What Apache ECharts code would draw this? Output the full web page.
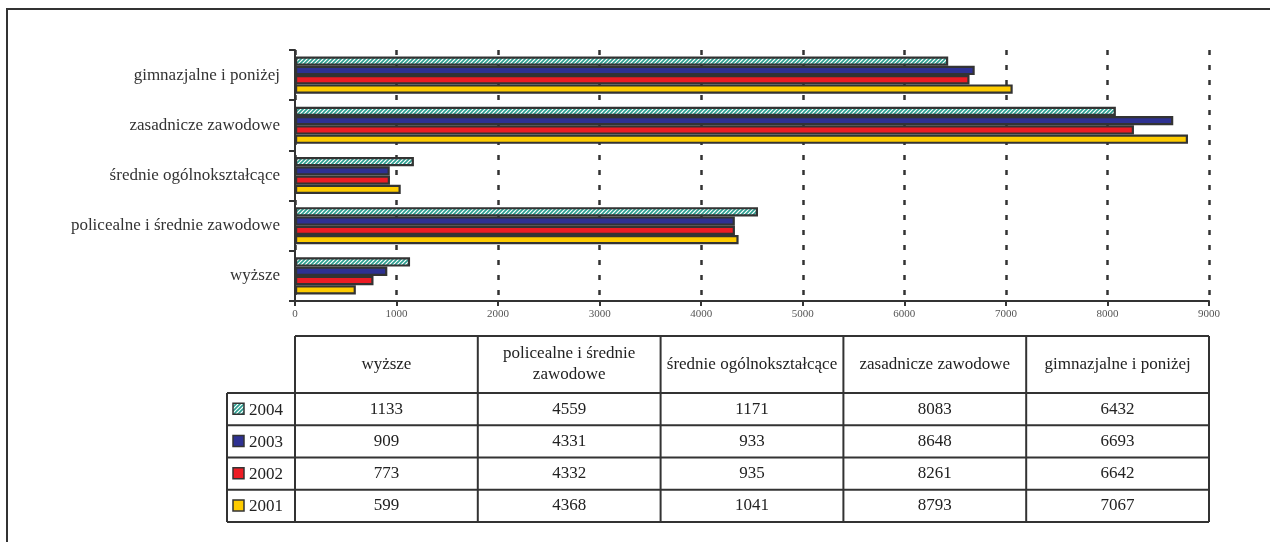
<!DOCTYPE html>
<html>
<head>
<meta charset="utf-8">
<script src="https://cdn.jsdelivr.net/npm/echarts@6/dist/echarts.min.js"></script>
<style>html,body{margin:0;padding:0;background:#fff;}#c{width:1270px;height:542px;}</style>
</head>
<body>
<div id="c"></div>
<script>
const categories = ['wyższe', 'policealne i średnie zawodowe', 'średnie ogólnokształcące', 'zasadnicze zawodowe', 'gimnazjalne i poniżej'];
const tableHeaders = ['wyższe', 'policealne i średnie\nzawodowe', 'średnie ogólnokształcące', 'zasadnicze zawodowe', 'gimnazjalne i poniżej'];
const years = ['2004', '2003', '2002', '2001'];
const v2004 = [1133, 4559, 1171, 8083, 6432];
const v2003 = [909, 4331, 933, 8648, 6693];
const v2002 = [773, 4332, 935, 8261, 6642];
const v2001 = [599, 4368, 1041, 8793, 7067];
const xTicks = [0, 1000, 2000, 3000, 4000, 5000, 6000, 7000, 8000, 9000];

const seriesValues = [v2004, v2003, v2002, v2001];

function hatch() {
  const c = document.createElement('canvas');
  c.width = 4; c.height = 4;
  const g = c.getContext('2d');
  g.fillStyle = '#ffffff'; g.fillRect(0, 0, 4, 4);
  g.strokeStyle = '#2a9d8f'; g.lineWidth = 1.6;
  g.beginPath();
  g.moveTo(0, 4); g.lineTo(4, 0);
  g.moveTo(-1, 1); g.lineTo(1, -1);
  g.moveTo(3, 5); g.lineTo(5, 3);
  g.stroke();
  return c;
}
const hatchPattern = { image: hatch(), repeat: 'repeat' };
const colors = [hatchPattern, '#2e3192', '#ed1c24', '#ffcc00'];

const FONT = 'Liberation Serif';
const gridLeft = 295, gridRight = 1209, gridTop = 50, gridBottom = 301;

const chart = echarts.init(document.getElementById('c'));

const tbl = [];
const colW = (gridRight - gridLeft) / categories.length;
const hdrTop = 336, hdrBot = 393, rowH = (522 - 393) / 4, legL = 227;
const tableBottom = hdrBot + rowH * years.length;
const lineStyle = { stroke: '#333', lineWidth: 2 };
tbl.push({ type: 'rect', shape: { x: 7, y: 9, width: 1400, height: 800 }, style: { fill: null, stroke: '#333', lineWidth: 2 }, silent: true });
tbl.push({ type: 'line', shape: { x1: gridLeft, y1: hdrTop, x2: gridRight, y2: hdrTop }, style: lineStyle });
for (let r = 0; r <= years.length; r++) {
  const y = hdrBot + r * rowH;
  tbl.push({ type: 'line', shape: { x1: legL, y1: y, x2: gridRight, y2: y }, style: lineStyle });
}
tbl.push({ type: 'line', shape: { x1: legL, y1: hdrBot, x2: legL, y2: tableBottom }, style: lineStyle });
for (let c = 0; c <= categories.length; c++) {
  const x = gridLeft + c * colW;
  tbl.push({ type: 'line', shape: { x1: x, y1: hdrTop, x2: x, y2: tableBottom }, style: lineStyle });
}
tableHeaders.forEach((txt, i) => {
  tbl.push({
    type: 'text', x: gridLeft + (i + 0.5) * colW, y: (hdrTop + hdrBot) / 2,
    style: { text: txt, fontFamily: FONT, fontSize: 17, lineHeight: 21, fill: '#222', align: 'center', verticalAlign: 'middle' }
  });
});
years.forEach((yr, r) => {
  const yc = hdrBot + (r + 0.5) * rowH;
  tbl.push({ type: 'rect', shape: { x: 233, y: yc - 6, width: 11, height: 11 }, style: { fill: colors[r], stroke: '#333', lineWidth: 1.5 } });
  tbl.push({ type: 'text', x: 249, y: yc + 1, style: { text: yr, fontFamily: FONT, fontSize: 17, fill: '#222', align: 'left', verticalAlign: 'middle' } });
  seriesValues[r].forEach((v, i) => {
    tbl.push({ type: 'text', x: gridLeft + (i + 0.5) * colW, y: yc, style: { text: String(v), fontFamily: FONT, fontSize: 17, fill: '#222', align: 'center', verticalAlign: 'middle' } });
  });
});

const option = {
  animation: false,
  backgroundColor: '#fff',
  grid: { left: gridLeft, right: 1270 - gridRight, top: gridTop, bottom: 542 - gridBottom, containLabel: false },
  xAxis: {
    type: 'value', min: 0, max: 9000, interval: 1000,
    axisLine: { show: true, lineStyle: { color: '#333', width: 2 } },
    axisTick: { show: true, length: 5, lineStyle: { color: '#333', width: 2 } },
    axisLabel: { fontFamily: FONT, fontSize: 11, color: '#555', margin: 8,
      formatter: v => (xTicks.indexOf(v) >= 0 ? String(v) : '') },
    splitLine: { show: true, lineStyle: { color: '#333', width: 2.5, type: [5, 10] } }
  },
  yAxis: {
    type: 'category', data: categories,
    axisLine: { show: true, lineStyle: { color: '#333', width: 2 } },
    axisTick: { show: true, length: 6, lineStyle: { color: '#333', width: 2 } },
    axisLabel: { fontFamily: FONT, fontSize: 17, color: '#333', margin: 15 },
    splitLine: { show: false }
  },
  series: years.map((yr, i) => ({
    name: yr, type: 'bar', data: seriesValues[i],
    barGap: '0%', barCategoryGap: '26%',
    itemStyle: { color: colors[i], borderColor: '#333', borderWidth: 2.2 }
  })),
  graphic: tbl
};
chart.setOption(option);
</script>
</body>
</html>
